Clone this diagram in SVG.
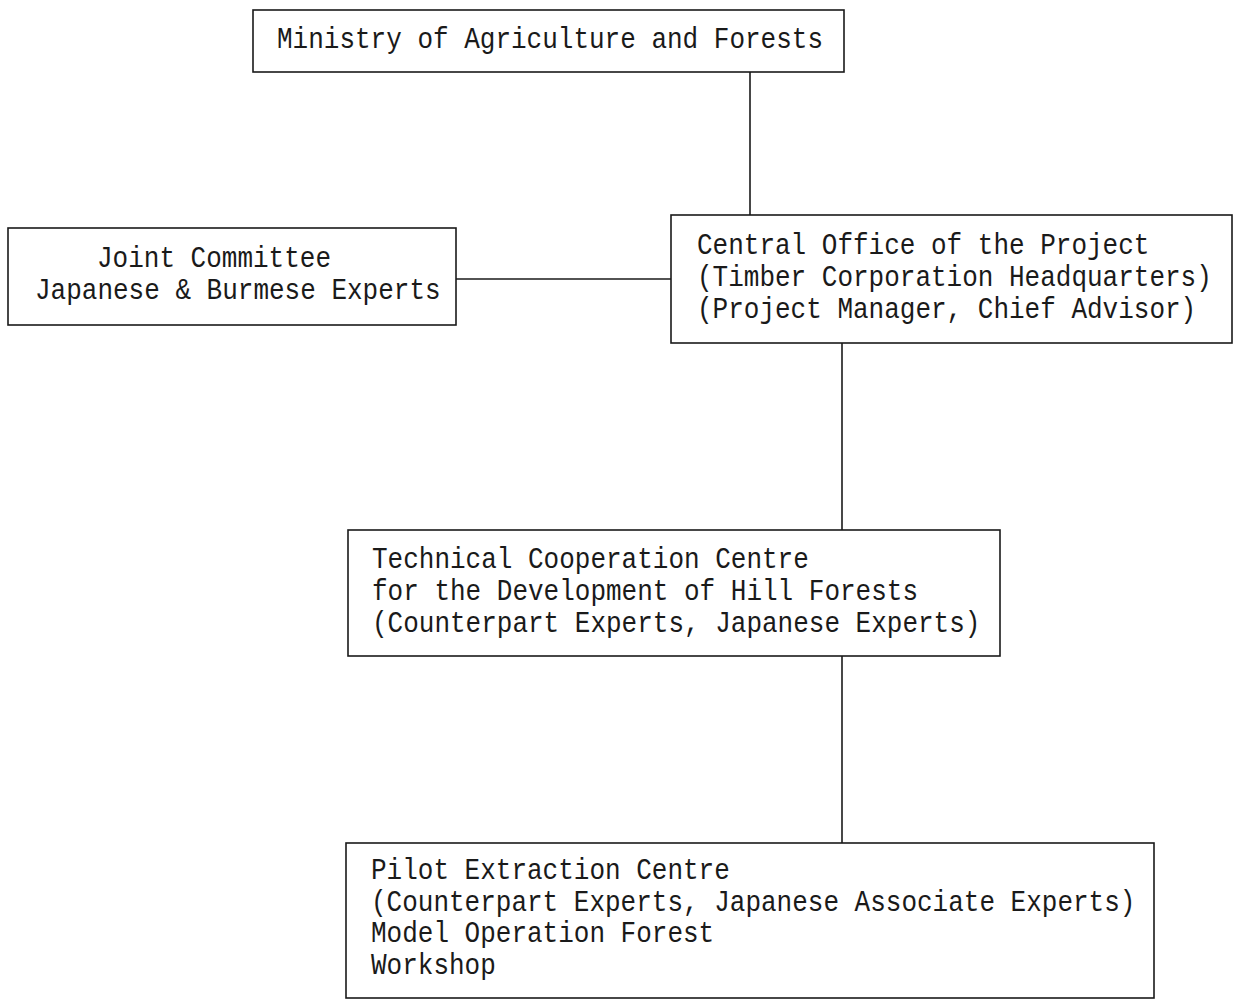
<svg xmlns="http://www.w3.org/2000/svg" width="1235" height="1002" viewBox="0 0 1235 1002">
<style>
.box{fill:none;stroke:#1a1a1a;stroke-width:1.6}
.t{font-family:"Liberation Mono","DejaVu Sans Mono",monospace;font-size:29px;fill:#1a1a1a}
.c{stroke:#1a1a1a;stroke-width:1.6;fill:none}
</style>
<rect width="1235" height="1002" fill="#ffffff"/>
<g id="connectors">
<line class="c" x1="750" y1="72" x2="750" y2="215"/>
<line class="c" x1="456" y1="279" x2="671" y2="279"/>
<line class="c" x1="842" y1="343" x2="842" y2="530"/>
<line class="c" x1="842" y1="656" x2="842" y2="843"/>
</g>
<g id="ministry">
<rect class="box" x="253" y="10" width="591" height="62"/>
<text class="t" x="277" y="48" textLength="546" lengthAdjust="spacingAndGlyphs">Ministry of Agriculture and Forests</text>
</g>
<g id="joint">
<rect class="box" x="8" y="228" width="448" height="97"/>
<text class="t" x="97" y="267" textLength="234" lengthAdjust="spacingAndGlyphs">Joint Committee</text>
<text class="t" x="35" y="299" textLength="405.6" lengthAdjust="spacingAndGlyphs">Japanese &amp; Burmese Experts</text>
</g>
<g id="central">
<rect class="box" x="671" y="215" width="561" height="128"/>
<text class="t" x="697" y="254" textLength="452.4" lengthAdjust="spacingAndGlyphs">Central Office of the Project</text>
<text class="t" x="697" y="286" textLength="514.8" lengthAdjust="spacingAndGlyphs">(Timber Corporation Headquarters)</text>
<text class="t" x="697" y="318" textLength="499.2" lengthAdjust="spacingAndGlyphs">(Project Manager, Chief Advisor)</text>
</g>
<g id="technical">
<rect class="box" x="348" y="530" width="652" height="126"/>
<text class="t" x="372" y="568" textLength="436.8" lengthAdjust="spacingAndGlyphs">Technical Cooperation Centre</text>
<text class="t" x="372" y="600" textLength="546" lengthAdjust="spacingAndGlyphs">for the Development of Hill Forests</text>
<text class="t" x="372" y="632" textLength="608.4" lengthAdjust="spacingAndGlyphs">(Counterpart Experts, Japanese Experts)</text>
</g>
<g id="pilot">
<rect class="box" x="346" y="843" width="808" height="155"/>
<text class="t" x="371" y="879" textLength="358.8" lengthAdjust="spacingAndGlyphs">Pilot Extraction Centre</text>
<text class="t" x="371" y="911" textLength="764.4" lengthAdjust="spacingAndGlyphs">(Counterpart Experts, Japanese Associate Experts)</text>
<text class="t" x="371" y="942" textLength="343.2" lengthAdjust="spacingAndGlyphs">Model Operation Forest</text>
<text class="t" x="371" y="974" textLength="124.8" lengthAdjust="spacingAndGlyphs">Workshop</text>
</g>
</svg>
